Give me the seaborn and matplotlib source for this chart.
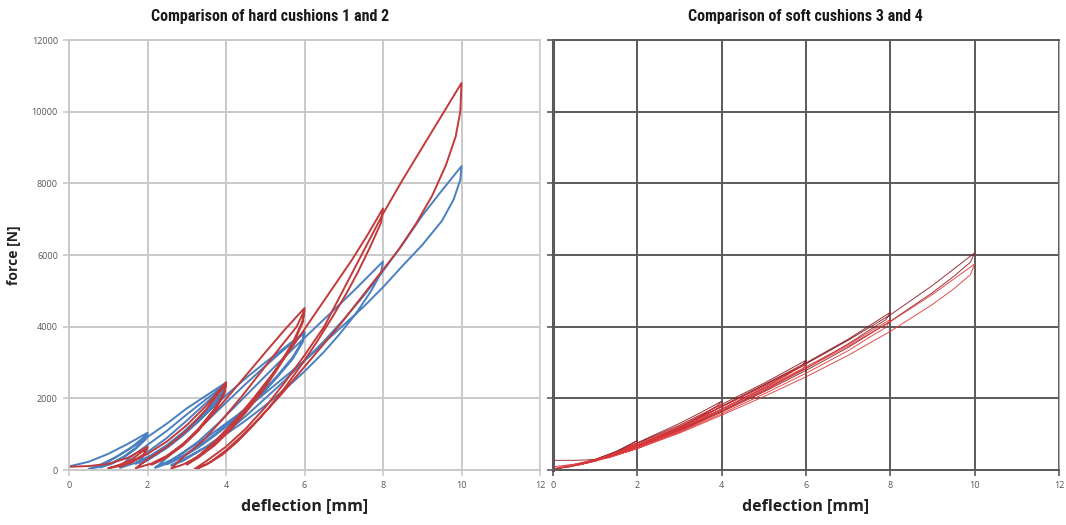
import numpy as np
import pandas as pd
import matplotlib
matplotlib.use("Agg")
import matplotlib.pyplot as plt
from matplotlib import font_manager
import seaborn as sns

# ---- Cyclic compression tests: deflection [mm] vs force [N] ----
# Hard cushion 1: loading/unloading path, cycles to 2, 4, 6, 8 and 10 mm
hard1_x = [0, 0.5, 1, 1.5, 2, 1.95, 1.7, 1.4, 1.1, 0.8, 0.5,
           0.8, 1.2, 1.6, 2, 1.95, 1.7, 1.4, 1.1, 0.8,
           1.1, 1.5, 2, 2.5, 3, 3.5, 4, 3.95, 3.7, 3.3, 2.9, 2.5, 2.1, 1.7, 1.3,
           1.5, 2, 2.5, 3, 3.5, 4, 3.95, 3.7, 3.3, 2.9, 2.5, 2.1, 1.7,
           2, 2.5, 3, 3.5, 4, 3.95, 3.7, 3.3, 2.9, 2.5, 2.1, 1.8,
           2.2, 2.6, 3, 3.5, 4, 4.5, 5, 5.5, 6, 5.95, 5.7, 5.3, 4.9, 4.5, 4.1, 3.7, 3.3, 2.9, 2.5, 2.2,
           2.5, 3, 3.5, 4, 4.5, 5, 5.5, 6, 5.95, 5.7, 5.3, 4.9, 4.5, 4.1, 3.7, 3.3, 2.9, 2.5,
           2.8, 3.3, 3.8, 4.3, 4.8, 5.3, 5.8, 6.3, 6.8, 7.3, 8, 7.95, 7.7, 7.3, 6.9, 6.5, 6, 5.5, 5, 4.5, 4, 3.5, 3, 2.6,
           2.9, 3.5, 4, 4.5, 5, 5.5, 6, 6.5, 7, 7.5, 8, 8.5, 9, 9.5, 10,
           9.97, 9.8, 9.5, 9, 8.5, 8, 7.5, 7, 6.5, 6, 5.5, 5, 4.5, 4, 3.5, 3, 2.6, 2.2]
hard1_f = [100, 230, 450, 730, 1040, 880, 620, 380, 200, 90, 30,
           150, 360, 640, 1000, 850, 590, 350, 180, 70,
           300, 560, 920, 1300, 1720, 2080, 2440, 2250, 1900, 1450, 1050, 700, 420, 200, 60,
           300, 700, 1100, 1550, 1980, 2400, 2200, 1850, 1400, 1000, 660, 380, 170,
           500, 900, 1380, 1880, 2370, 2150, 1800, 1350, 960, 620, 340, 150,
           420, 720, 1100, 1580, 2080, 2560, 3000, 3420, 3850, 3600, 3150, 2620, 2150, 1720, 1330, 980, 660, 400, 180, 60,
           350, 820, 1350, 1880, 2400, 2900, 3380, 3820, 3560, 3100, 2580, 2100, 1680, 1290, 950, 630, 370, 160,
           400, 800, 1300, 1850, 2400, 2950, 3480, 4000, 4520, 5050, 5820, 5500, 5000, 4350, 3800, 3300, 2750, 2250, 1800, 1380, 1000, 650, 350, 130,
           250, 650, 1050, 1500, 2000, 2500, 3050, 3600, 4200, 4850, 5550, 6300, 7100, 7800, 8480,
           8100, 7550, 6950, 6280, 5700, 5100, 4550, 4050, 3550, 3050, 2600, 2150, 1700, 1300, 900, 550, 280, 80]

# Hard cushion 2
hard2_x = [0, 0.5, 1, 1.5, 2, 1.9, 1.6, 1.3, 1,
           1.3, 1.6, 2, 1.9, 1.6, 1.3,
           1.5, 2, 2.5, 3, 3.5, 4, 3.95, 3.7, 3.3, 2.9, 2.5, 2.1, 1.7,
           2, 2.5, 3, 3.5, 4, 3.95, 3.7, 3.3, 2.9, 2.5, 2.1,
           2.4, 3, 3.5, 4, 4.5, 5, 5.5, 6, 5.95, 5.7, 5.3, 4.9, 4.5, 4.1, 3.7, 3.3, 2.9, 2.6,
           2.9, 3.4, 3.9, 4.4, 4.9, 5.4, 5.8, 6, 5.95, 5.7, 5.3, 4.9, 4.5, 4.1, 3.7, 3.3, 3,
           3.3, 3.7, 4.2, 4.7, 5.2, 5.7, 6.2, 6.7, 7.2, 7.6, 8,
           7.95, 7.67, 7.35, 7.07, 6.7, 6.3, 5.9, 5.5, 5.1, 4.7, 4.3, 3.9, 3.5, 3.2,
           3.5, 4, 4.5, 5, 5.5, 6, 6.5, 7, 7.5, 8, 8.5, 9, 9.5, 10,
           9.97, 9.85, 9.6, 9.25, 8.85, 8.4, 7.9, 7.4, 6.9, 6.4, 5.9, 5.4, 4.9, 4.4, 4, 3.6, 3.3]
hard2_f = [90, 110, 170, 340, 650, 430, 230, 110, 50,
           150, 300, 620, 410, 210, 100,
           200, 450, 800, 1250, 1800, 2450, 2150, 1700, 1150, 720, 400, 180, 50,
           300, 650, 1100, 1700, 2400, 2100, 1650, 1100, 680, 360, 150,
           300, 800, 1350, 1980, 2630, 3280, 3920, 4520, 4150, 3550, 2850, 2200, 1650, 1150, 720, 380, 150, 40,
           350, 800, 1400, 2050, 2750, 3450, 4000, 4460, 4100, 3500, 2800, 2150, 1600, 1100, 680, 350, 150,
           400, 780, 1350, 2000, 2700, 3450, 4250, 5050, 5850, 6550, 7300,
           6900, 6220, 5500, 4930, 4250, 3550, 2900, 2300, 1750, 1250, 800, 420, 150, 30,
           250, 650, 1150, 1750, 2450, 3200, 4000, 5050, 6100, 7150, 8100, 9000, 9900, 10800,
           10000, 9300, 8500, 7650, 6890, 6150, 5450, 4750, 4050, 3400, 2750, 2100, 1500, 950, 550, 220, 50]

# Soft cushion 3
soft3_x = [0, 0.5, 1, 1.5, 2, 1.6, 1.2, 0.8, 0.4, 0,
           0.5, 1, 1.5, 2, 2.5, 3, 3.5, 4, 3.9, 3.5, 3, 2.5, 2, 1.5, 1, 0.6,
           1, 2, 3, 4, 5, 6, 5.9, 5.5, 5, 4, 3, 2, 1.2,
           2, 3, 4, 5, 6, 7, 8, 7.9, 7.5, 7, 6, 5, 4, 3, 2, 1.3,
           2, 3, 4, 5, 6, 7, 8, 9, 10, 9.9, 9.5, 9, 8, 7, 6, 5, 4, 3, 2]
soft3_f = [270, 270, 290, 520, 820, 560, 360, 200, 90, 20,
           130, 300, 500, 760, 1030, 1300, 1600, 1920, 1800, 1500, 1180, 900, 650, 440, 260, 150,
           280, 740, 1250, 1830, 2420, 3060, 2900, 2620, 2300, 1700, 1150, 650, 330,
           700, 1200, 1780, 2380, 2990, 3650, 4400, 4200, 3900, 3520, 2830, 2220, 1650, 1120, 640, 360,
           690, 1180, 1760, 2350, 2960, 3620, 4330, 5150, 6060, 5800, 5400, 4950, 4150, 3420, 2780, 2180, 1620, 1100, 640]

# Soft cushion 4
soft4_x = [0, 0.5, 1, 1.5, 2, 1.6, 1.2, 0.8, 0.4, 0,
           1, 2, 3, 4, 3.9, 3.5, 3, 2, 1, 0.6,
           1, 2, 3, 4, 5, 6, 5.9, 5.5, 5, 4, 3, 2, 1.2,
           2, 3, 4, 5, 6, 7, 8, 7.9, 7.5, 7, 6, 5, 4, 3, 2, 1.3,
           2, 3, 4, 5, 6, 7, 8, 9, 10, 9.9, 9.5, 9, 8, 7, 6, 5, 4, 3, 2]
soft4_f = [90, 160, 290, 480, 760, 520, 330, 190, 90, 40,
           270, 700, 1230, 1840, 1720, 1430, 1120, 600, 240, 140,
           260, 680, 1190, 1760, 2340, 2950, 2800, 2530, 2200, 1620, 1080, 610, 310,
           660, 1150, 1700, 2280, 2880, 3500, 4200, 3980, 3700, 3330, 2700, 2120, 1570, 1060, 600, 330,
           650, 1130, 1680, 2250, 2840, 3460, 4140, 4900, 5750, 5450, 5050, 4620, 3870, 3200, 2600, 2050, 1530, 1030, 600]

titles = ["Comparison of hard cushions 1 and 2", "Comparison of soft cushions 3 and 4"]
x_ticks = [0, 2, 4, 6, 8, 10, 12]
y_ticks = [0, 2000, 4000, 6000, 8000, 10000, 12000]


def frame(name, xs, fs):
    return pd.DataFrame({"deflection": xs, "force": fs, "cushion": name})


hard = pd.concat([frame("cushion 1", hard1_x, hard1_f),
                  frame("cushion 2", hard2_x, hard2_f)], ignore_index=True)
soft = pd.concat([frame("cushion 3", soft3_x, soft3_f),
                  frame("cushion 4", soft4_x, soft4_f)], ignore_index=True)

sns.set_theme(style="white")
plt.rcParams["font.family"] = ["Open Sans", "DejaVu Sans"]

installed = {f.name for f in font_manager.fontManager.ttflist}
narrow = next((n for n in ["Liberation Sans Narrow", "DejaVu Sans Condensed",
                           "Roboto Condensed", "Open Sans Condensed", "Roboto"]
               if n in installed), "DejaVu Sans")
title_size = 11.5 if "Narrow" in narrow or "Condensed" in narrow else 10.5

fig = plt.figure(figsize=(10.66, 5.25), dpi=100)
ax1 = fig.add_axes([69 / 1066, 1 - 470 / 525, 471 / 1066, 430 / 525])
ax2 = fig.add_axes([553 / 1066, 1 - 470 / 525, 506 / 1066, 430 / 525])

sns.lineplot(data=hard, x="deflection", y="force", hue="cushion", units="cushion",
             estimator=None, sort=False, palette=["#4a80c0", "#c23a3c"],
             linewidth=1.4, legend=False, ax=ax1)
sns.lineplot(data=soft, x="deflection", y="force", hue="cushion", units="cushion",
             estimator=None, sort=False, palette=["#8e1c24", "#e0383a"],
             linewidth=0.7, alpha=0.9, legend=False, ax=ax2)

for ax, gcol, ecol in [(ax1, "#c9c9c9", "#d8d8d8"), (ax2, "#5a5a5a", "#b0b0b0")]:
    ax.set_xlim(0, 12)
    ax.set_ylim(0, 12000)
    ax.set_xticks(x_ticks)
    ax.set_yticks(y_ticks)
    ax.grid(True, color=gcol, linewidth=1.4)
    ax.set_axisbelow(True)
    for side in ["left", "bottom", "top"]:
        ax.spines[side].set_color(gcol)
        ax.spines[side].set_linewidth(1.4)
    ax.spines["right"].set_color(ecol)
    ax.spines["right"].set_linewidth(0.8)
    ax.tick_params(axis="both", which="both", length=4, width=1.2, color=gcol,
                   labelsize=6.5, labelcolor="#555555", pad=4, direction="out",
                   bottom=True, left=True)
    ax.set_xlabel("deflection [mm]", fontsize=11.5, fontweight="bold", color="#222222",
                  labelpad=6)
    ax.set_ylabel("")

fig.text(270 / 1066, 1 - 17 / 525, titles[0], ha="center", va="center",
         fontsize=title_size, fontweight="bold", color="#1a1a1a", family=narrow)
fig.text(805 / 1066, 1 - 17 / 525, titles[1], ha="center", va="center",
         fontsize=title_size, fontweight="bold", color="#1a1a1a", family=narrow)

ax1.set_ylabel("force [N]", fontsize=10, fontweight="bold", color="#222222", labelpad=8)
ax2.set_yticklabels([])
ax2.spines["left"].set_linewidth(2.2)

fig.savefig("out.png", dpi=100)
